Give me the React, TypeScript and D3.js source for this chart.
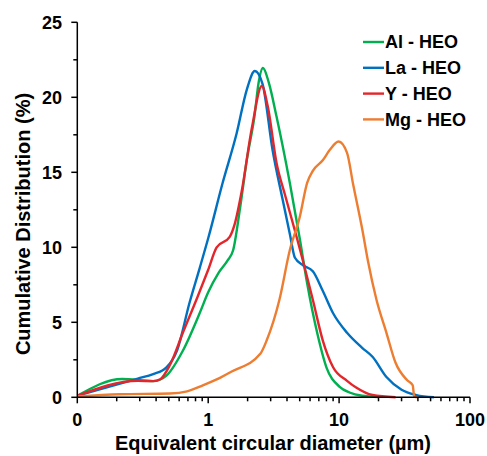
import React from 'react';
import * as d3 from 'd3';

// Particle size distributions ([diameter µm, %])
const alHeo: [number, number][] = [
  [0.1, 0.1], [0.22, 1.22], [0.38, 1.08], [0.48, 1.45], [0.64, 3.1], [0.86, 5.6],
  [1.0, 7.0], [1.2, 8.3], [1.4, 9.1], [1.55, 9.8], [1.75, 12.6], [1.97, 15.8],
  [2.27, 18.9], [2.42, 20.9], [2.62, 21.95], [2.9, 21.0], [3.33, 18.7], [4.2, 14.3],
  [5.0, 10.6], [5.7, 7.6], [6.8, 4.3], [8.0, 2.0], [10.1, 0.7], [12, 0.32],
  [15, 0.1], [20, 0.02],
];
const laHeo: [number, number][] = [
  [0.1, 0.1], [0.29, 1.25], [0.38, 1.55], [0.48, 2.0], [0.58, 3.15], [0.72, 6.3],
  [0.86, 8.6], [1.0, 10.6], [1.29, 14.3], [1.65, 17.6], [1.97, 20.5], [2.27, 21.75],
  [2.6, 20.9], [3.1, 16.5], [3.7, 13.2], [4.2, 10.9], [4.6, 9.3], [5.3, 8.8],
  [6.3, 8.4], [7.5, 7.1], [9.0, 5.6], [11.5, 4.3], [15, 3.3], [18, 2.7],
  [23, 1.35], [30, 0.5], [39, 0.15], [53, 0.0],
];
const yHeo: [number, number][] = [
  [0.1, 0.1], [0.29, 1.1], [0.38, 1.08], [0.43, 1.2], [0.51, 2.15], [0.64, 4.3],
  [0.83, 6.7], [1.0, 8.5], [1.16, 10.0], [1.46, 10.7], [1.6, 11.6], [1.8, 13.7],
  [2.16, 18.0], [2.57, 20.75], [2.85, 19.4], [3.33, 15.6], [3.86, 13.5], [4.7, 10.8],
  [6.3, 6.5], [7.5, 3.8], [9.0, 2.0], [11.5, 1.1], [13.5, 0.65], [18, 0.15],
  [27, 0.0],
];
const mgHeo: [number, number][] = [
  [0.1, 0.05], [0.21, 0.2], [0.51, 0.25], [0.69, 0.4], [0.91, 0.8], [1.23, 1.3],
  [1.5, 1.7], [2.5, 2.9], [2.8, 3.8], [3.5, 6.5], [4.2, 9.8], [5.0, 12.0],
  [5.7, 14.3], [6.3, 15.1], [7.5, 15.8], [8.5, 16.5], [9.9, 17.05], [11.5, 16.3],
  [12.8, 14.2], [15.1, 11.1], [16.6, 9.1], [19.3, 6.5], [23, 4.3], [27, 2.3],
  [33, 1.15], [36.5, 0.8], [37.5, 0.05], [40, 0.0],
];

const seriesNames = ['Al - HEO', 'La - HEO', 'Y - HEO', 'Mg - HEO'];
const seriesColors = ['#00b050', '#0070c0', '#e3262b', '#ed7d31'];
const seriesData = [alHeo, laHeo, yHeo, mgHeo];

const xTickValues = [0.1, 1, 10, 100];
const xTickLabels = ['0', '1', '10', '100'];
const yTickValues = [0, 5, 10, 15, 20, 25];

const W = 487, H = 456;
const FONT = 'Liberation Sans, Arial, sans-serif';

export default function App() {
  const x = d3.scaleLog().domain([0.1, 100]).range([77.3, 470]);
  const y = d3.scaleLinear().domain([0, 25]).range([397.3, 22.3]);

  const line = d3.line<[number, number]>()
    .x(d => x(d[0]))
    .y(d => y(d[1]))
    .curve(d3.curveMonotoneX);

  // minor log ticks 2..9 in each decade
  const minorX: number[] = [];
  [0.1, 1, 10].forEach(b => d3.range(2, 10).forEach(k => minorX.push(b * k)));
  const minorY = d3.range(2.5, 25, 5);

  const x0 = x(0.1), yb = y(0);

  return (
    <div style={{ position: 'fixed', left: 0, top: 0 }}>
      <svg width={W} height={H} style={{ display: 'block', background: '#fff' }} fontFamily={FONT}>
        {/* series */}
        {seriesData.map((d, i) => (
          <path key={i} d={line(d) || ''} fill="none" stroke={seriesColors[i]} strokeWidth={2.4} strokeLinejoin="round" />
        ))}

        {/* y axis */}
        <line x1={x0} x2={x0} y1={y(25)} y2={yb} stroke="#000" strokeWidth={1.5} />
        {yTickValues.map(v => (
          <g key={v}>
            <line x1={x0 - 6} x2={x0} y1={y(v)} y2={y(v)} stroke="#000" strokeWidth={1.5} />
            <text x={62} y={y(v)} dy="0.36em" textAnchor="end" fontSize={18} fontWeight="bold">{v}</text>
          </g>
        ))}
        {minorY.map(v => (
          <line key={v} x1={x0 - 4} x2={x0} y1={y(v)} y2={y(v)} stroke="#000" strokeWidth={1.5} />
        ))}

        {/* x axis */}
        <line x1={x0} x2={x(100)} y1={yb} y2={yb} stroke="#000" strokeWidth={1.5} />
        {xTickValues.map((v, i) => (
          <g key={v}>
            <line x1={x(v)} x2={x(v)} y1={yb} y2={yb + 6} stroke="#000" strokeWidth={1.5} />
            <text x={x(v)} y={426} textAnchor="middle" fontSize={18} fontWeight="bold">{xTickLabels[i]}</text>
          </g>
        ))}
        {minorX.map(v => (
          <line key={v} x1={x(v)} x2={x(v)} y1={yb} y2={yb + 4} stroke="#000" strokeWidth={1.5} />
        ))}

        {/* axis titles */}
        <text x={273} y={450} textAnchor="middle" fontSize={20} fontWeight="bold">Equivalent circular diameter (µm)</text>
        <text transform="translate(30,224) rotate(-90)" textAnchor="middle" fontSize={20} fontWeight="bold">
          Cumulative Distribution (%)
        </text>

        {/* legend */}
        {seriesNames.map((n, i) => (
          <g key={n} transform={`translate(363,${42 + i * 25.8})`}>
            <line x1={0} x2={21} y1={0} y2={0} stroke={seriesColors[i]} strokeWidth={2.4} />
            <text x={22} y={0} dy="0.36em" fontSize={18} fontWeight="bold">{n}</text>
          </g>
        ))}
      </svg>
    </div>
  );
}
